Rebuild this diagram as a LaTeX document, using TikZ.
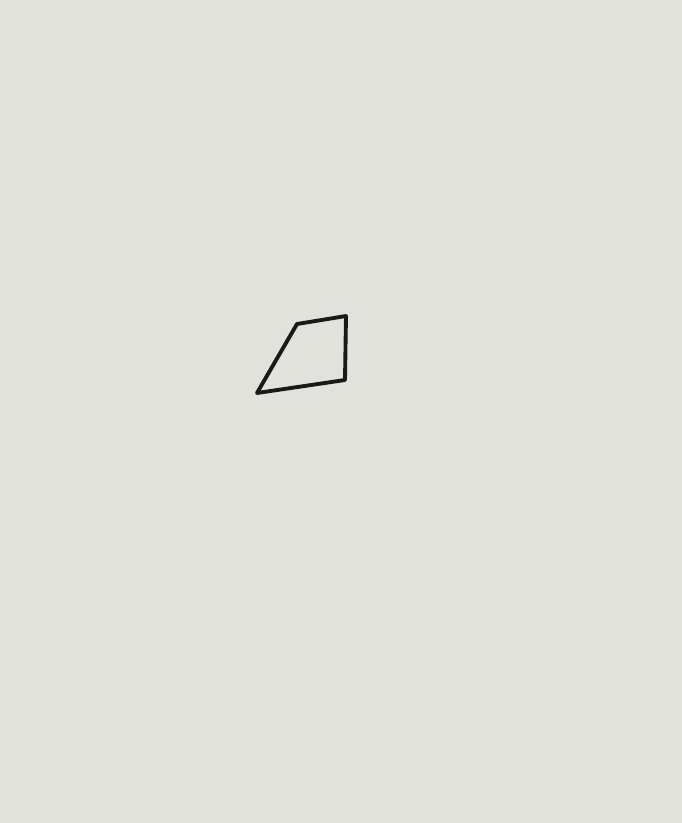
\documentclass[tikz,border=0pt]{standalone}
\usepackage{amsmath,amssymb}
\definecolor{paper}{RGB}{226,226,221}
\begin{document}
\begin{tikzpicture}[x=0.02cm,y=-0.02cm]
                \fill[paper] (0,0) rectangle (682,823);
                \useasboundingbox (0,0) rectangle (682,823);
                \coordinate (A) at (257,393);
                \coordinate (B) at (345,380);
                \coordinate (C) at (346,316);
                \coordinate (D) at (297,324);
                \draw[line width=2.2pt,line join=round,line cap=round,black!90] (A)--(B)--(C)--(D)--cycle;
            \end{tikzpicture}
\end{document}
